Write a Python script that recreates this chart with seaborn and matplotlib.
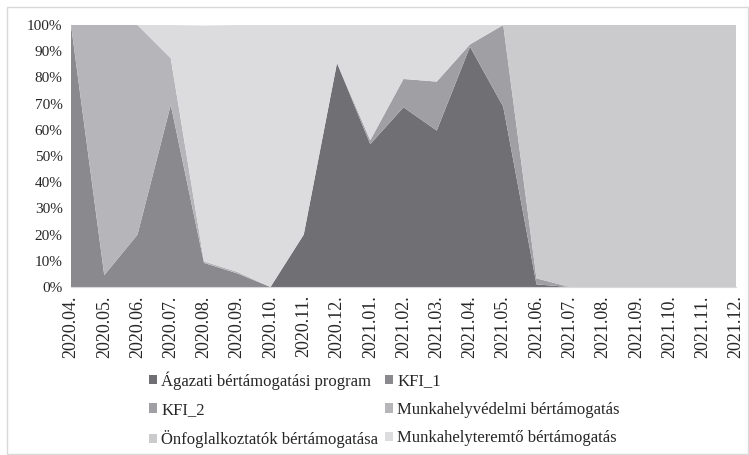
import numpy as np
import pandas as pd
import seaborn as sns
import matplotlib.pyplot as plt
from matplotlib.patches import Rectangle

# months on the x axis
months = ['2020.04.', '2020.05.', '2020.06.', '2020.07.', '2020.08.', '2020.09.', '2020.10.',
          '2020.11.', '2020.12.', '2021.01.', '2021.02.', '2021.03.', '2021.04.', '2021.05.',
          '2021.06.', '2021.07.', '2021.08.', '2021.09.', '2021.10.', '2021.11.', '2021.12.']

# share of each programme (%)
agazati = [0, 0, 0, 0, 0, 0, 0, 20, 85.5, 54.5, 68.6, 59.7, 91.7, 68.8, 1.0, 0, 0, 0, 0, 0, 0]
kfi_1 = [100, 4.5, 20, 69.5, 9.2, 5.2, 0, 0, 0, 0, 0, 0, 0, 0, 0, 0, 0, 0, 0, 0, 0]
kfi_2 = [0, 0, 0, 0, 0, 0, 0, 0, 0, 1.5, 10.8, 18.7, 0.9, 31.2, 2.3, 0, 0, 0, 0, 0, 0]
munkahelyvedelmi = [0, 95.5, 80, 17.8, 0.6, 0.6, 0, 0, 0, 0, 0, 0, 0, 0, 0, 0, 0, 0, 0, 0, 0]
onfoglalkoztatok = [0, 0, 0, 0, 0, 0, 0, 0, 0, 0, 0, 0, 0, 0, 96.7, 100, 100, 100, 100, 100, 100]
munkahelyteremto = [0, 0, 0, 12.7, 90.0, 94.2, 100, 80, 14.5, 44.0, 20.6, 21.6, 7.4, 0, 0, 0, 0, 0, 0, 0, 0]

series_names = ['Ágazati bértámogatási program', 'KFI_1', 'KFI_2',
                'Munkahelyvédelmi bértámogatás', 'Önfoglalkoztatók bértámogatása',
                'Munkahelyteremtő bértámogatás']
colors = ['#707074', '#8a8a8e', '#a0a0a4', '#b6b6ba', '#cbcbce', '#dcdcdf']

df = pd.DataFrame({
    'honap': months,
    series_names[0]: agazati,
    series_names[1]: kfi_1,
    series_names[2]: kfi_2,
    series_names[3]: munkahelyvedelmi,
    series_names[4]: onfoglalkoztatok,
    series_names[5]: munkahelyteremto,
})

sns.set_style('white')
plt.rcParams['font.family'] = ['Liberation Serif', 'DejaVu Serif']

fig = plt.figure(figsize=(7.49, 4.55), dpi=100)
ax = fig.add_axes([71 / 749, 1 - 287 / 455, (736 - 71) / 749, (287 - 25) / 455])

x = np.arange(len(months))
polys = ax.stackplot(x, *[df[n].values for n in series_names], colors=colors,
                     labels=series_names, linewidth=0, edgecolor='none')

ax.set_xlim(0, len(months) - 1)
ax.set_ylim(0, 100)
ax.set_yticks(range(0, 101, 10))
ax.set_yticklabels([f'{v}%' for v in range(0, 101, 10)], fontsize=11, color='#262626')
ax.set_xticks(x)
ax.set_xticklabels(months, rotation=90, fontsize=13, color='#262626')
ax.tick_params(axis='x', length=4, width=0.8, color='#d9d9d9', pad=2)
ax.tick_params(axis='y', length=0, pad=6)
sns.despine(ax=ax, left=True)
ax.spines['bottom'].set_color('#d9d9d9')

# legend: two columns, filled row by row
order = [0, 2, 4, 1, 3, 5]
fig.legend([polys[i] for i in order], [series_names[i] for i in order],
           loc='upper center', bbox_to_anchor=(0.513, 1 - 356 / 455), ncol=2,
           frameon=False, fontsize=12, handlelength=0.5, handleheight=0.5,
           handletextpad=0.25, columnspacing=0.4, labelspacing=0.75)

fig.add_artist(Rectangle((7 / 749, 1 / 455), 741 / 749, 447 / 455, transform=fig.transFigure,
                         fill=False, edgecolor='#d9d9d9', linewidth=1))

fig.savefig('out.png', dpi=100)
